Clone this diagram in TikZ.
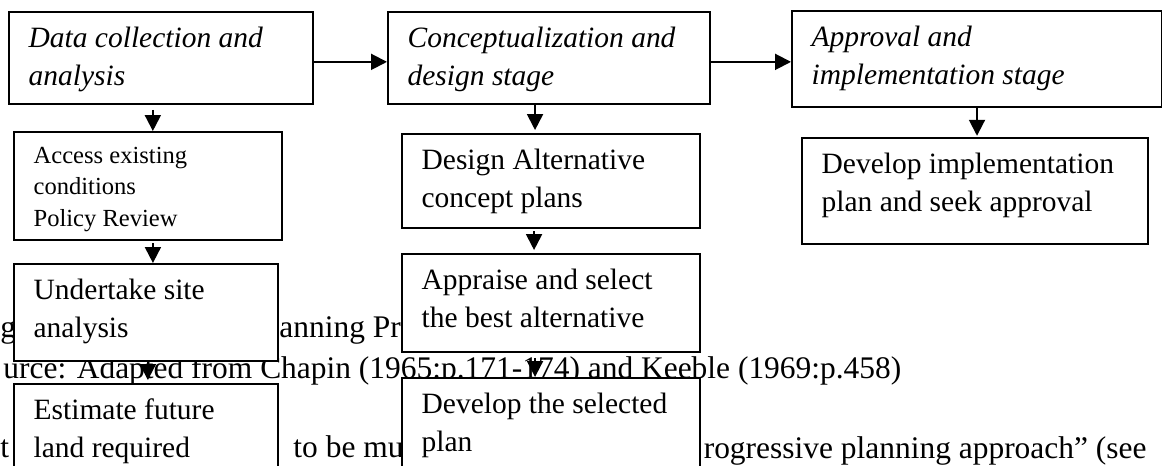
\documentclass[tikz,border=0pt]{standalone}
\usepackage{fontspec}
\setmainfont{Liberation Serif}
\usetikzlibrary{arrows.meta}

\begin{document}
\begin{tikzpicture}[
    x=0.407pt,
    y=-0.407pt,
    stage/.style={
        rectangle,
        draw=black,
        line width=0.8pt,
        fill=white,
        anchor=north west,
        inner xsep=8pt,
        inner ysep=3.7pt,
        font=\fontsize{12pt}{15.5pt}\selectfont\itshape
    },
    task/.style={
        stage,
        font=\fontsize{12pt}{15.5pt}\selectfont
    },
    smalltask/.style={
        stage,
        font=\fontsize{10pt}{12.8pt}\selectfont
    },
    bgtext/.style={
        inner sep=0pt,
        font=\fontsize{12.8pt}{15pt}\selectfont
    },
    flow/.style={
        -{Triangle[length=6.5pt,width=6.5pt]},
        line width=0.8pt
    }
]

\useasboundingbox (0,0) rectangle (1162,465);
\clip (0,0) rectangle (1162,465);

% Text behind the chart
\node[bgtext, anchor=base west] (capA) at (0,337) {g};
\node[bgtext, anchor=base west] (capB) at (279,337) {anning Pr};
\node[bgtext, anchor=base west] (src) at (3,378) {urce: Adapted from Chapin (1965:p.171-174) and Keeble (1969:p.458)};
\node[bgtext, anchor=base west] (parA) at (0,457) {t};
\node[bgtext, anchor=base west] (parB) at (293,457) {to be mu};
\node[bgtext, anchor=base east] (parC) at (1147,458) {rogressive planning approach” (see};

% Stage 1
\node[stage] (data) at (8,11) {
    \begin{minipage}[c][30pt][t]{107.7pt}
        \raggedright\strut Data collection and\\analysis
    \end{minipage}
};
\node[smalltask] (access) at (13,131) {
    \begin{minipage}[c][36.6pt][t]{93.1pt}
        \raggedright\strut Access existing\\conditions\\Policy Review
    \end{minipage}
};
\node[task] (site) at (13,263) {
    \begin{minipage}[c][32.1pt][t]{91.4pt}
        \raggedright\strut Undertake site\\analysis
    \end{minipage}
};
\node[task] (land) at (13,383) {
    \begin{minipage}[c][37.4pt][t]{91.4pt}
        \raggedright\strut Estimate future\\land required
    \end{minipage}
};

% Stage 2
\node[stage] (concept) at (387,11) {
    \begin{minipage}[c][30pt][t]{115.1pt}
        \raggedright\strut Conceptualization and\\design stage
    \end{minipage}
};
\node[task] (design) at (401,133) {
    \begin{minipage}[c][30.9pt][t]{105.3pt}
        \raggedright\strut Design Alternative\\concept plans
    \end{minipage}
};
\node[task] (appraise) at (401,253) {
    \begin{minipage}[c][32.5pt][t]{105.3pt}
        \raggedright\strut Appraise and select\\the best alternative
    \end{minipage}
};
\node[task] (develop) at (401,377) {
    \begin{minipage}[c][37.4pt][t]{105.3pt}
        \raggedright\strut Develop the selected\\plan
    \end{minipage}
};

% Stage 3
\node[stage] (approval) at (791,10) {
    \begin{minipage}[c][31.7pt][t]{134.6pt}
        \raggedright\strut Approval and\\implementation stage
    \end{minipage}
};
\node[task] (implement) at (801,137) {
    \begin{minipage}[c][35.7pt][t]{124.8pt}
        \raggedright\strut Develop implementation\\plan and seek approval
    \end{minipage}
};

% Arrows between stages
\draw[flow] ([yshift=-1.6pt]data.east) -- ([yshift=-1.6pt]data.east -| concept.west);
\draw[flow] ([yshift=-1.6pt]concept.east) -- ([yshift=-1.6pt]concept.east -| approval.west);

% Arrows down each column
\draw[flow] ([xshift=-3.3pt,yshift=-2pt]data.south) -- ([xshift=-3.3pt]data.south |- access.north);
\draw[flow] ([xshift=2pt,yshift=-0.8pt]access.south) -- ([xshift=2pt]access.south |- site.north);
\draw[flow, shorten >=1.2pt] ([xshift=0.8pt]site.south) -- ([xshift=0.8pt]site.south |- land.north);
\draw[flow, shorten >=1.2pt] ([xshift=-5.7pt]concept.south) -- ([xshift=-5.7pt]concept.south |- design.north);
\draw[flow, shorten >=1.2pt] ([xshift=-6.9pt,yshift=-0.8pt]design.south) -- ([xshift=-6.9pt]design.south |- appraise.north);
\draw[flow] ([xshift=-6.5pt,yshift=-2pt]appraise.south) -- ([xshift=-6.5pt]appraise.south |- develop.north);
\draw[flow, shorten >=0.5pt] (approval.south) -- (approval.south |- implement.north);

\end{tikzpicture}
\end{document}
